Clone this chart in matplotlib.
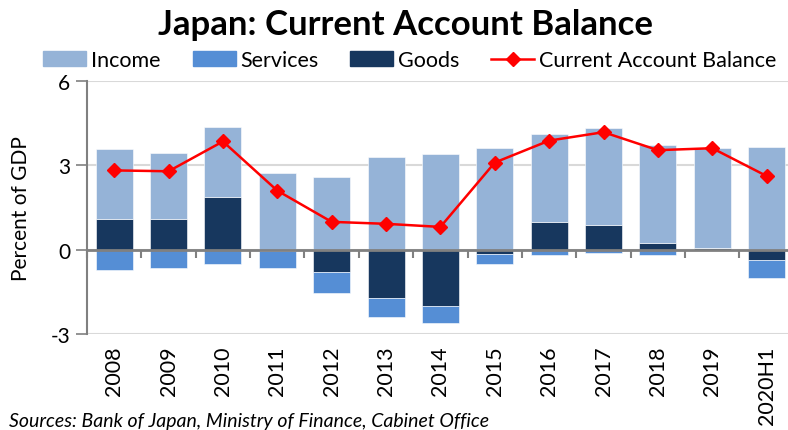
import matplotlib
matplotlib.use('Agg')
import matplotlib.pyplot as plt
import matplotlib.transforms as mtransforms
from matplotlib.lines import Line2D
from matplotlib.patches import Patch
import numpy as np

plt.rcParams['font.family'] = ['Lato', 'DejaVu Sans']

years = ['2008', '2009', '2010', '2011', '2012', '2013', '2014',
         '2015', '2016', '2017', '2018', '2019', '2020H1']
income = [2.47, 2.33, 2.50, 2.74, 2.58, 3.30, 3.42, 3.61, 3.13, 3.43, 3.48, 3.56, 3.64]
services = [-0.71, -0.64, -0.52, -0.59, -0.75, -0.67, -0.62, -0.38, -0.18, -0.11, -0.18, 0.0, -0.65]
goods = [1.10, 1.10, 1.86, -0.05, -0.80, -1.71, -2.00, -0.14, 0.98, 0.89, 0.25, 0.05, -0.36]
current_account = [2.82, 2.79, 3.85, 2.10, 0.99, 0.92, 0.81, 3.10, 3.88, 4.18, 3.54, 3.61, 2.62]

c_income = '#95B3D7'
c_services = '#558ED5'
c_goods = '#17375E'
c_line = '#FF0000'

fig = plt.figure(figsize=(7.88, 4.31), dpi=100)
ax = fig.add_axes([0.1104, 0.2227, 0.897, 0.587])

x = np.arange(len(years))
width = 0.68

# stack positives upward and negatives downward, goods nearest zero
pos_base = np.zeros(len(years))
neg_base = np.zeros(len(years))
for vals, col in [(goods, c_goods), (services, c_services), (income, c_income)]:
    v = np.array(vals)
    bottom = np.where(v >= 0, pos_base, neg_base)
    ax.bar(x, v, width, bottom=bottom, color=col, edgecolor='white', linewidth=0.4, zorder=2)
    pos_base = pos_base + np.where(v >= 0, v, 0)
    neg_base = neg_base + np.where(v < 0, v, 0)

ax.plot(x, current_account, color=c_line, linewidth=1.8, marker='D', markersize=7, zorder=4)

ax.set_xlim(-0.5, len(years) - 0.5)
ax.set_ylim(-3, 6)
ax.set_yticks([-3, 0, 3, 6])
ax.set_yticklabels(['-3', '0', '3', '6'], fontsize=15)
ax.tick_params(axis='y', length=8, width=1.2, color='#808080', pad=4)
ax.yaxis.grid(True, color='#D9D9D9', linewidth=1.5, zorder=0)
ax.set_axisbelow(True)

for s in ['top', 'right']:
    ax.spines[s].set_visible(False)
ax.spines['left'].set_color('#808080')
ax.spines['left'].set_linewidth(1.5)
ax.spines['bottom'].set_position(('data', 0))
ax.spines['bottom'].set_color('#808080')
ax.spines['bottom'].set_linewidth(2)
ax.spines['bottom'].set_zorder(3)

ax.set_xticks(np.arange(len(years) + 1) - 0.5)
ax.set_xticklabels([])
ax.tick_params(axis='x', direction='out', length=6, width=1.5, color='#808080')

trans = mtransforms.blended_transform_factory(ax.transData, ax.transAxes)
for i, lab in enumerate(years):
    ax.text(i, -0.045, lab, transform=trans, rotation=90, ha='center', va='top', fontsize=15.5)

ax.set_ylabel('Percent of GDP', fontsize=15, labelpad=14)

fig.text(0.515, 0.943, 'Japan: Current Account Balance', ha='center', va='center',
         fontsize=25, fontweight='bold')

handles = [Patch(color=c_income), Patch(color=c_services), Patch(color=c_goods),
           Line2D([], [], color=c_line, linewidth=1.8, marker='D', markersize=7)]
labels = ['Income', 'Services', 'Goods', 'Current Account Balance']
fig.legend(handles, labels, loc='center', bbox_to_anchor=(0.52, 0.858), ncol=4, frameon=False,
           fontsize=15.5, handlelength=2.0, handleheight=0.7, handletextpad=0.2, columnspacing=1.5,
           borderaxespad=0)

fig.text(0.012, 0.003, 'Sources: Bank of Japan, Ministry of Finance, Cabinet Office',
         ha='left', va='bottom', fontsize=14, style='italic')

fig.savefig('out.png', dpi=100)
